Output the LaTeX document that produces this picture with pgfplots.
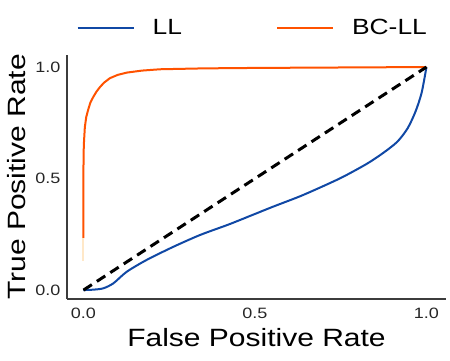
\documentclass[border=0pt]{standalone}
\usepackage{fontspec}
\setmainfont{Liberation Sans}[FakeStretch=1.2]
\usepackage{pgfplots}
\pgfplotsset{compat=1.18}
\definecolor{llblue}{RGB}{16,72,165}
\definecolor{bcorange}{RGB}{255,82,0}
\definecolor{fadeorange}{RGB}{255,232,200}
\definecolor{axgray}{RGB}{60,60,60}
\begin{document}
\begin{tikzpicture}
\begin{axis}[
  scale only axis,
  width=379pt, height=244pt,
  xmin=-0.048, xmax=1.057,
  ymin=-0.040, ymax=1.054,
  axis lines*=left,
  axis line style={axgray, line width=1.5pt, -},
  xtick={0,0.5,1}, ytick={0,0.5,1},
  xticklabels={0.0,0.5,1.0}, yticklabels={0.0,0.5,1.0},
  major tick length=0pt,
  tick label style={font=\fontsize{15}{18}\selectfont, text=black!85},
  /pgf/number format/assume math mode=true,
  xticklabel style={yshift=-5pt},
  yticklabel style={xshift=-3pt},
  xlabel={False Positive Rate},
  ylabel={True Positive Rate},
  label style={font=\fontsize{25}{28}\selectfont},
  xlabel style={yshift=-3pt},
  ylabel style={yshift=3pt},
  legend columns=2,
  legend style={draw=none, at={(0.49,1.06)}, anchor=south,
    font=\fontsize{22}{24}\selectfont,
    /tikz/every even column/.append style={column sep=92pt}},
  legend image code/.code={\draw[#1,line width=2.2pt] (0pt,0pt) -- (56pt,0pt); \path (72pt,0pt);},
  clip=false,
]
\addplot[llblue, line width=2pt, smooth, tension=0.45] coordinates {
(0,0) (0.03,0.002) (0.058,0.008) (0.087,0.030) (0.126,0.082) (0.184,0.135)
(0.262,0.194) (0.340,0.247) (0.418,0.291) (0.456,0.314) (0.553,0.374)
(0.640,0.426) (0.748,0.501) (0.826,0.566) (0.874,0.615) (0.915,0.665)
(0.945,0.725) (0.968,0.800) (0.986,0.885) (1,1)};
\addlegendentry{LL}
\addplot[bcorange, line width=2pt] coordinates {
(0,0.233) (0,0.55) (0.001,0.65) (0.004,0.73) (0.008,0.775) (0.014,0.81)
(0.02,0.84) (0.029,0.867) (0.038,0.89) (0.048,0.91) (0.06,0.93) (0.077,0.95)
(0.1,0.965) (0.126,0.975) (0.17,0.984) (0.223,0.99) (0.35,0.994) (0.5,0.996) (1,1)};
\addlegendentry{BC-LL}
\addplot[fadeorange, line width=2pt, forget plot] coordinates {(0,0.13) (0,0.233)};
\addplot[black, line width=3pt, dash pattern=on 10pt off 6pt, forget plot] coordinates {(0,0) (1,1)};
\end{axis}
\path (current axis.south west) ++(-67pt,-62pt) rectangle ++(450pt,361pt);
\end{tikzpicture}
\end{document}
